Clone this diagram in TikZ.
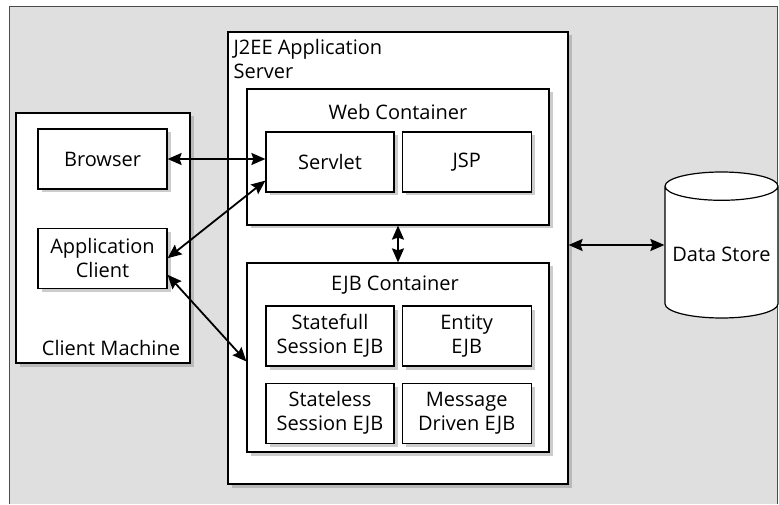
\documentclass[tikz,border=0pt]{standalone}
\usepackage{fontspec}
\setmainfont{Open Sans}
\usepackage{tikz}
\usetikzlibrary{positioning,arrows.meta,shapes.geometric,shadows}

\begin{document}
\begin{tikzpicture}[x=1pt,y=1pt,>={Stealth[length=14pt,width=12pt,inset=2pt]},
                    font=\fontsize{20}{24}\selectfont]
  \tikzstyle{frame}=[draw=black,line width=1.2pt,fill=white,
                     drop shadow={shadow xshift=3.5pt,shadow yshift=-3.5pt,opacity=.4}]
  \tikzstyle{box}=[frame,minimum width=129pt,minimum height=60pt,align=center,inner sep=0pt]
  \tikzstyle{title}=[inner sep=0pt]
  \tikzstyle{link}=[draw,<->,line width=1.8pt]

  \useasboundingbox (0,0) rectangle (779,504);
  \fill[gray!25] (9,0) rectangle (777,497);
  \draw[line width=1pt,black!70] (9,0) -- (9,497) -- (777,497) -- (777,0);

  % client side
  \node[frame,minimum width=174pt,minimum height=250pt] (client) at (103,266) {};
  \node[box]   (browser)   at (102.5,345)            {Browser};
  \node[box]   (appclient) [below=38pt of browser]  {Application\\Client};
  \node[title] (clientlbl) at ([xshift=8pt,yshift=16pt]client.south) {Client Machine};

  % application server
  \node[frame,minimum width=340pt,minimum height=452pt] (server) at (398,246) {};
  \node[title,anchor=north west,align=left] (serverlbl)
       at ([xshift=6pt,yshift=-8pt]server.north west) {J2EE Application\\Server};

  \node[frame,minimum width=302pt,minimum height=136pt] (web) at (398,347) {};
  \node[title] (weblbl) at ([yshift=-24pt]web.north) {Web Container};
  \node[box,minimum width=128pt] (servlet) at (330,342)              {Servlet};
  \node[box]                     (jsp)     [right=7pt of servlet]    {JSP};

  \node[frame,minimum width=302pt,minimum height=189pt] (ejb) at (398,146.5) {};
  \node[title] (ejblbl) at ([xshift=-3pt,yshift=-23pt]ejb.north) {EJB Container};
  \node[box,minimum width=128pt] (statefull) at (330,168)               {Statefull\\Session EJB};
  \node[box]                     (entity)    [right=7pt of statefull]   {Entity\\EJB};
  \node[box,minimum width=128pt] (stateless) [below=16pt of statefull]  {Stateless\\Session EJB};
  \node[box]                     (message)   [right=7pt of stateless]   {Message\\Driven EJB};

  % database
  \node[cylinder,shape border rotate=90,aspect=.27,draw,fill=white,line width=1.2pt,
        minimum width=113pt,minimum height=146pt,anchor=shape center] (store) at (721.5,259) {Data Store};

  \path (browser.east)                 edge[link] (browser.east -| servlet.west)
        (appclient.east)               edge[link] ([yshift=12pt]servlet.south west)
        ([yshift=14pt]appclient.south east) edge[link] ([yshift=-4pt]ejb.west)
        (web.south)                    edge[link] (ejb.north)
        (store.shape center -| server.east) edge[link] (store.west |- store.shape center);
\end{tikzpicture}
\end{document}
